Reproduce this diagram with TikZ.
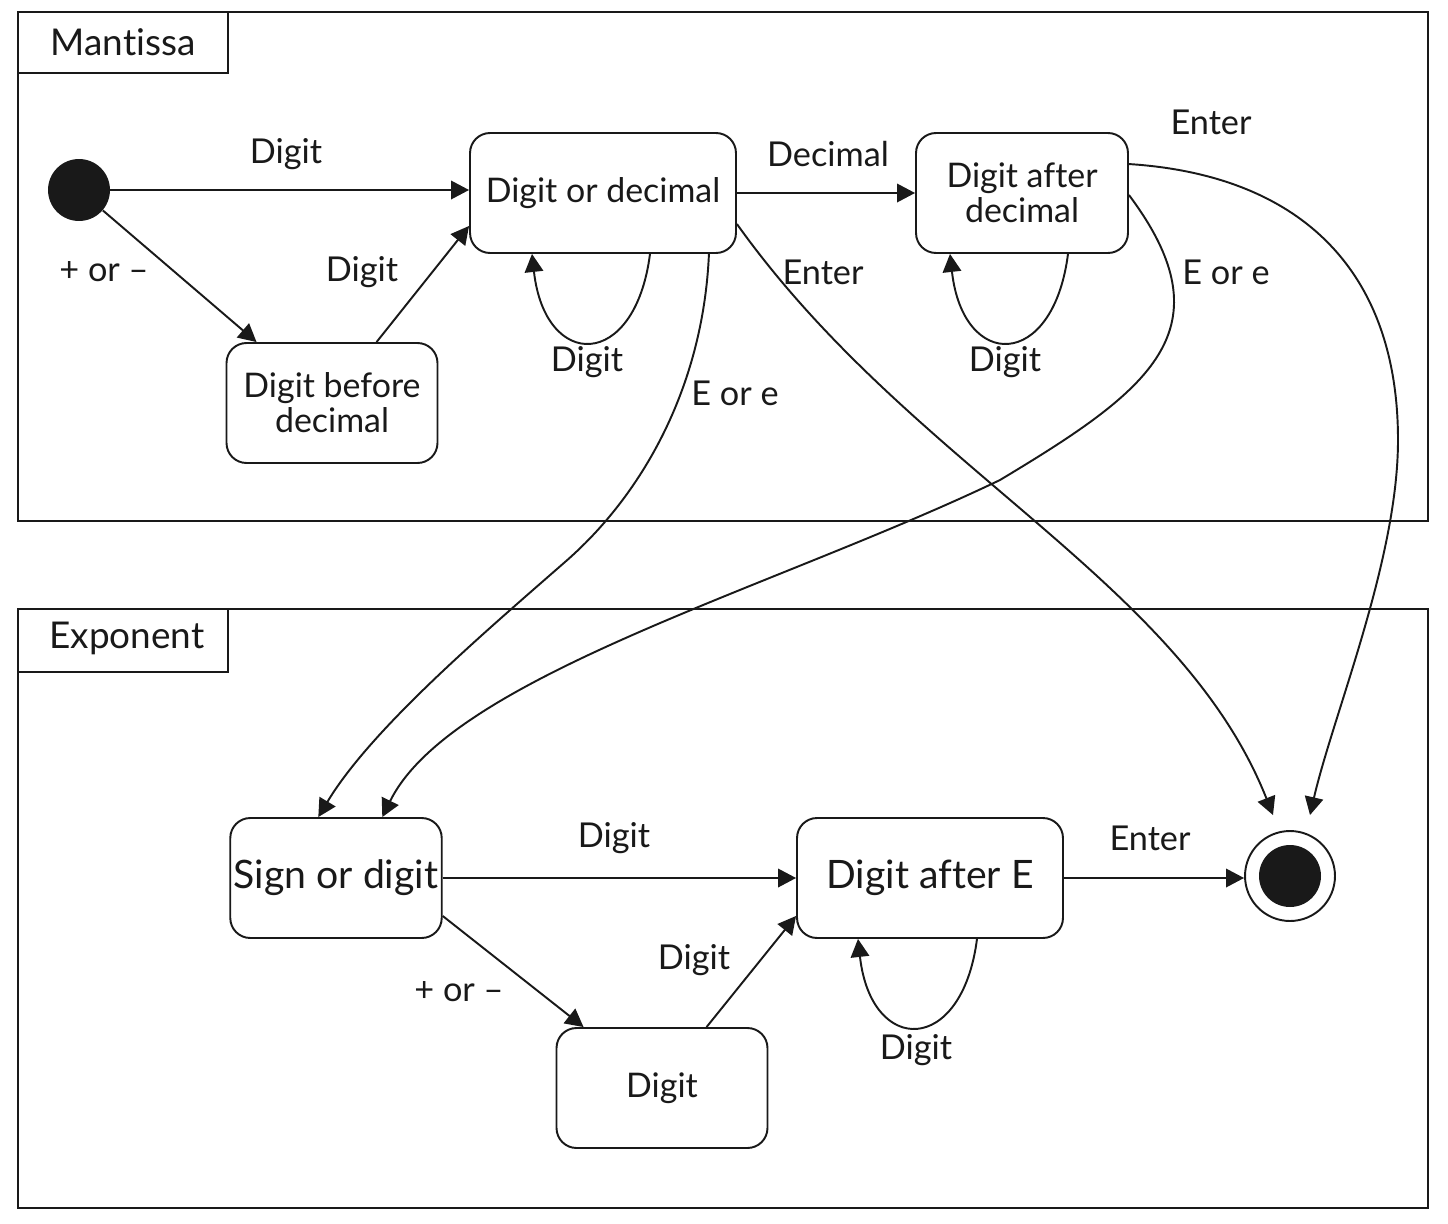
\documentclass[tikz,border=0pt]{standalone}
\usepackage{fontspec}
\setmainfont{Lato}[Ligatures=NoCommon]
\usetikzlibrary{arrows.meta, positioning, calc}

\tikzset{
  stbox/.style={draw, rounded corners=0.4cm, minimum height=2.4cm, align=center,
    line width=1.1pt, inner sep=2pt, font=\fontsize{19.3}{20}\selectfont},
  bigtxt/.style={font=\fontsize{22.3}{24}\selectfont},
  lbl/.style={font=\fontsize{19.5}{24}\selectfont},
  trans/.style={-{Triangle[length=0.36cm,width=0.37cm]}, line width=1.1pt},
  lane/.style={line width=1.4pt},
}

\begin{document}
\begin{tikzpicture}[x=0.02cm, y=-0.02cm, color=black!90]
\useasboundingbox (0,0) rectangle (1448,1224);

% Mantissa
\draw[lane] (18,12) rectangle (1428,521);
\draw[lane] (18,12) rectangle (228,73);
\node[lbl, font=\fontsize{21}{24}\selectfont] (mant) at (123,42) {Mantissa};

\node[circle, fill, minimum size=1.24cm, inner sep=0] (init) at (79,190) {};
\node[stbox, minimum width=5.32cm] (dod) at (603,193) {Digit or decimal};
\node[stbox, minimum width=4.24cm] (dad) at (1022,193) {Digit after\\decimal};
\node[stbox, minimum width=4.22cm] (dbd) at (332,403) {Digit before\\decimal};

% Exponent
\draw[lane] (18,609) rectangle (1428,1208);
\draw[lane] (18,609) rectangle (228,672);
\node[lbl, font=\fontsize{21}{24}\selectfont] (expo) at (127,638) {Exponent};

\node[stbox, bigtxt, minimum width=4.2cm] (sod) at (336,878) {Sign or digit};
\node[stbox, bigtxt, minimum width=5.32cm] (dae) at (930,878) {Digit after E};
\node[stbox, minimum width=4.22cm] (dig) at (662,1088) {Digit};
\node[circle, draw, line width=1.1pt, minimum size=1.8cm, inner sep=0] (fin) at (1290,876) {};
\fill (fin.center) circle (0.62cm);

% straight transitions
\draw[trans] (init) -- (init -| dod.west);
\draw[trans] (init) -- ($(dbd.north west)+(31,0)$);
\draw[trans] ($(dbd.north west)+(151,0)$) -- ($(dod.south west)+(0,-28)$);
\draw[trans] (dod.east) -- (dad.west);
\draw[trans] (sod.east) -- (dae.west);
\draw[trans] ($(sod.south east)+(0,-23)$) -- ($(dig.north west)+(28,0)$);
\draw[trans] ($(dig.north west)+(151,0)$) -- ($(dae.south west)+(0,-23)$);
\draw[trans] (dae.east) -- (dae.east -| fin.west);

% self loops
\draw[trans] ($(dod.south)+(47,0)$) .. controls +(-15,117) and +(13,117) .. ($(dod.south)+(-71,0)$);
\draw[trans] ($(dad.south)+(46,0)$) .. controls +(-15,117) and +(13,117) .. ($(dad.south)+(-72,0)$);
\draw[trans] ($(dae.south)+(47,0)$) .. controls +(-15,117) and +(13,117) .. ($(dae.south)+(-72,0)$);

% long curves
\draw[trans] ($(dod.south east)+(-28,0)$) .. controls (703,390) and (640,497) .. (565,562)
  .. controls (485,632) and (371,729) .. ($(sod.north west)+(89,0)$);
\draw[trans] ($(dad.east)+(0,2)$) .. controls (1230,330) and (1150,390) .. (1000,480)
  .. controls (775,588) and (451,677) .. ($(sod.north west)+(153,0)$);
\draw[trans] ($(dod.north east)+(0,92)$) .. controls (911,468) and (1180,580) .. ($(fin.north)+(-17,-15)$);
\draw[trans] ($(dad.north east)+(0,32)$) .. controls (1300,175) and (1398,270) .. (1398,440)
  .. controls (1398,560) and (1333,715) .. ($(fin.north)+(20,-15)$);

% labels
\node[lbl] (la) at (286,154) {Digit};
\node[lbl] (lb) at (104,272) {+ or –};
\node[lbl] (lc) at (362,272) {Digit};
\node[lbl] (ld) at (587,362) {Digit};
\node[lbl] (le) at (828,154) {Decimal};
\node[lbl] (lf) at (823,272) {Enter};
\node[lbl] (lg) at (735,393) {E or e};
\node[lbl] (lh) at (1005,362) {Digit};
\node[lbl] (li) at (1226,272) {E or e};
\node[lbl] (lj) at (1211,122) {Enter};
\node[lbl] (lk) at (614,838) {Digit};
\node[lbl] (ll) at (459,992) {+ or –};
\node[lbl] (lm) at (694,960) {Digit};
\node[lbl] (ln) at (916,1050) {Digit};
\node[lbl] (lo) at (1150,838) {Enter};

\end{tikzpicture}
\end{document}
